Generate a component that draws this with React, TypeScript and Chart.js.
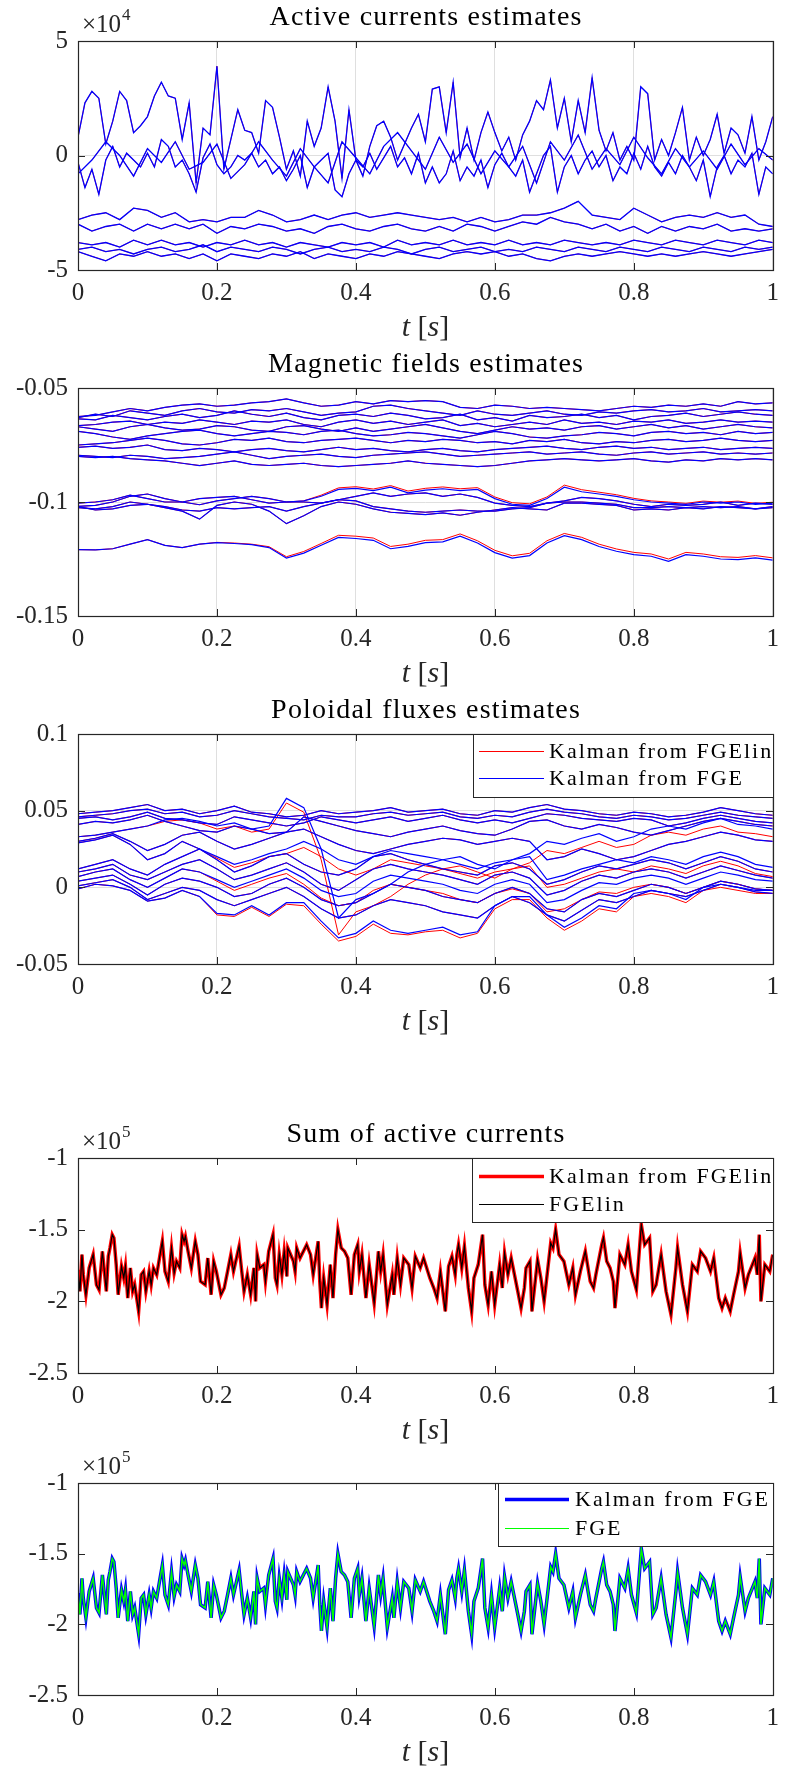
import React, { useEffect, useRef } from "react";
import { Chart, registerables } from "chart.js";
Chart.register(...registerables);

// ---------------- shared axis ticks ----------------
const xTicks = [0, 0.2, 0.4, 0.6, 0.8, 1];
const xTickLabels = ["0", "0.2", "0.4", "0.6", "0.8", "1"];

// ---------------- panel 1: active currents (units of 1e4) ----------------
const p1YTicks = [-5, 0, 5];
const p1YTickLabels = ["-5", "0", "5"];
const fineStep = 0.01;
const coarseStep = 0.02;
const currentA = [
  0.8, 2.3, 2.8, 2.5, 0.5, 1.5, 2.8, 2.4, 1.0, 1.3,
  1.7, 2.6, 3.2, 2.6, 2.5, 0.7, 2.3, -1.2, 1.2, 0.9,
  3.9, -0.6, 0.7, 2.0, 1.1, 1.0, 0.1, 2.4, 2.1, 0.8,
  -0.6, 0.2, -0.9, 1.5, 0.4, 1.2, 3.0, 1.5, -1.0, 2.0,
  -0.2, -0.9, 0.4, 1.3, 1.5, 0.8, -0.2, 0.5, 1.2, 1.8,
  0.6, 2.9, 3.0, 1.0, 3.2, -0.1, 1.2, -0.2, 1.0, 1.9,
  1.0, 0.2, 0.8, -0.2, 0.9, 1.5, 2.4, 2.0, 3.3, 1.2,
  2.5, 0.6, 2.4, 1.0, 3.4, 1.1, 0.2, 1.0, -0.2, 0.4,
  -0.2, 3.0, 2.7, -0.2, 0.7, 0.0, 1.0, 2.1, -0.2, 0.8,
  0.0, 0.7, 1.8, 0.1, 1.2, 0.9, 0.1, 1.7, -0.2, 0.6,
  1.7,
];
const currentB = [
  -0.3, -1.4, -0.6, -1.7, -0.2, 0.4, -0.5, 0.1, -0.2, -0.5,
  0.1, -0.5, 0.7, 0.4, -0.5, -0.2, -0.8, -1.6, -0.1, 0.5,
  -0.4, -0.8, -0.5, 0.0, -0.2, 0.1, -0.5, -0.2, -0.8, -0.5,
  -1.1, -0.6, 0.0, -1.4, -0.5, -0.2, 0.1, -1.5, -1.8, -0.8,
  -0.2, -0.5, 0.1, -0.6, -0.1, 0.4, -0.5, -0.1, -0.8, 0.1,
  -1.2, -0.5, -1.2, -0.8, 0.2, -1.1, -0.5, -0.9, -0.2, -1.4,
  -0.4, 0.1, -0.5, -0.9, -0.2, -1.6, -0.8, 0.0, 0.4, -1.6,
  -0.5, 0.0, -0.8, -0.2, 0.2, -0.5, 0.0, -1.1, -0.5, -0.8,
  0.1, -0.6, 0.4, -0.5, -0.9, -0.3, -0.8, 0.0, -0.5, -1.1,
  -0.2, -1.8, -0.5, 0.0, -0.8, -0.2, -0.5, 0.1, -1.7, -0.5,
  -0.8,
];
const currentC = [
  -0.8, -0.2, 0.6, 0.0, -0.9, 0.3, -0.3, 0.6, -0.6, -0.3,
  0.5, -1.0, -0.4, 0.6, -0.2, -0.9, 0.3, -0.5, -1.2, 0.6,
  -0.1, -0.8, 0.4, 1.0, 0.2, -0.6, 0.8, -0.3, 0.5, -0.8,
  0.2, -0.5, 0.4, -1.2, 0.6, -0.2, 0.9, -0.6, 0.3, -0.4,
  0.8, -0.1, -0.8, 0.3, -0.5, 0.2, -0.6, 0.5, -0.4, 0.3,
  -0.2,
];
const currentD = [
  -2.8, -2.6, -2.5, -2.8, -2.3, -2.4, -2.7, -2.5, -2.9, -2.8,
  -2.9, -2.7, -2.7, -2.4, -2.6, -2.9, -2.8, -2.6, -2.8, -2.6,
  -2.5, -2.7, -2.6, -2.5, -2.6, -2.7, -2.8, -2.7, -2.9, -2.7,
  -2.9, -2.8, -2.6, -2.6, -2.5, -2.3, -2.0, -2.6, -2.7, -2.8,
  -2.3, -2.6, -2.9, -2.7, -2.6, -2.7, -2.5, -2.7, -2.6, -3.0,
  -3.1,
];
const currentE = [
  -3.0, -3.3, -3.1, -3.0, -3.3, -3.0, -3.2, -3.0, -3.2, -3.0,
  -3.4, -3.1, -3.2, -3.0, -3.1, -3.3, -3.2, -3.4, -3.1, -3.0,
  -3.2, -3.3, -3.1, -3.0, -3.2, -3.3, -3.1, -3.3, -3.0, -3.1,
  -3.3, -3.1, -2.9, -3.0, -2.7, -2.9, -3.0, -3.2, -3.0, -3.3,
  -3.1, -3.4, -3.1, -3.3, -3.1, -3.2, -3.0, -3.3, -3.2, -3.3,
  -3.2,
];
const currentF = [
  -3.8, -3.9, -3.8, -4.0, -3.7, -3.9, -3.7, -3.9, -3.8, -4.0,
  -3.8, -3.9, -3.7, -3.9, -3.8, -4.0, -3.8, -3.9, -4.0, -3.8,
  -3.9, -3.8, -4.0, -3.7, -3.9, -3.8, -3.9, -3.7, -3.9, -3.8,
  -3.9, -3.7, -3.9, -3.8, -3.9, -3.7, -3.8, -3.9, -3.8, -3.9,
  -3.7, -3.8, -3.9, -3.7, -3.8, -3.9, -3.7, -3.8, -3.9, -3.7,
  -3.8,
];
const currentG = [
  -4.1, -4.0, -4.2, -4.1, -4.3, -4.1, -4.0, -4.2, -4.1, -3.9,
  -4.2, -4.0, -4.1, -4.2, -4.0, -4.1, -4.3, -4.1, -4.0, -4.2,
  -4.1, -4.2, -4.0, -4.1, -4.3, -4.1, -4.0, -4.2, -4.1, -4.0,
  -4.2, -4.1, -4.2, -4.0, -4.1, -4.2, -4.0, -4.1, -4.2, -4.0,
  -4.1, -4.2, -4.0, -4.1, -4.2, -4.0, -4.1, -4.2, -4.0, -4.1,
  -4.0,
];
const currentH = [
  -4.2, -4.4, -4.6, -4.3, -4.4, -4.2, -4.4, -4.3, -4.5, -4.3,
  -4.6, -4.3, -4.4, -4.5, -4.3, -4.4, -4.2, -4.5, -4.3, -4.4,
  -4.5, -4.3, -4.4, -4.2, -4.3, -4.4, -4.5, -4.3, -4.2, -4.3,
  -4.2, -4.4, -4.3, -4.5, -4.6, -4.4, -4.3, -4.4, -4.3, -4.2,
  -4.3, -4.4, -4.3, -4.4, -4.3, -4.2, -4.3, -4.4, -4.3, -4.2,
  -4.1,
];

// ---------------- panel 2: magnetic fields ----------------
const p2YTicks = [-0.15, -0.1, -0.05];
const p2YTickLabels = ["-0.15", "-0.1", "-0.05"];
const fieldStep = 0.025;
const fieldT1 = [
  -0.0625, -0.0620, -0.0605, -0.0590, -0.0600, -0.0585, -0.0575, -0.0570, -0.0580, -0.0575,
  -0.0565, -0.0560, -0.0548, -0.0565, -0.0580, -0.0575, -0.0560, -0.0570, -0.0555, -0.0560,
  -0.0555, -0.0560, -0.0585, -0.0590, -0.0575, -0.0580, -0.0590, -0.0585, -0.0590, -0.0595,
  -0.0600, -0.0590, -0.0580, -0.0585, -0.0575, -0.0580, -0.0570, -0.0580, -0.0560, -0.0570,
  -0.0565,
];
const fieldT2 = [
  -0.0630, -0.0615, -0.0625, -0.0600, -0.0610, -0.0620, -0.0600, -0.0590, -0.0605, -0.0610,
  -0.0595, -0.0600, -0.0590, -0.0605, -0.0620, -0.0610, -0.0605, -0.0580, -0.0575, -0.0590,
  -0.0600, -0.0610, -0.0620, -0.0600, -0.0615, -0.0620, -0.0610, -0.0600, -0.0615, -0.0620,
  -0.0605, -0.0610, -0.0600, -0.0595, -0.0605, -0.0600, -0.0590, -0.0605, -0.0600, -0.0595,
  -0.0600,
];
const fieldT3 = [
  -0.0635, -0.0640, -0.0620, -0.0630, -0.0640, -0.0625, -0.0615, -0.0630, -0.0620, -0.0600,
  -0.0615, -0.0625, -0.0610, -0.0630, -0.0640, -0.0620, -0.0615, -0.0625, -0.0610, -0.0620,
  -0.0635, -0.0630, -0.0615, -0.0640, -0.0630, -0.0645, -0.0620, -0.0630, -0.0625, -0.0615,
  -0.0630, -0.0620, -0.0640, -0.0625, -0.0620, -0.0610, -0.0625, -0.0615, -0.0605, -0.0615,
  -0.0620,
];
const fieldT4 = [
  -0.0665, -0.0660, -0.0650, -0.0645, -0.0660, -0.0650, -0.0655, -0.0640, -0.0650, -0.0660,
  -0.0645, -0.0650, -0.0640, -0.0660, -0.0670, -0.0650, -0.0640, -0.0655, -0.0645, -0.0660,
  -0.0650, -0.0640, -0.0665, -0.0655, -0.0670, -0.0660, -0.0650, -0.0660, -0.0640, -0.0655,
  -0.0650, -0.0660, -0.0645, -0.0650, -0.0640, -0.0655, -0.0650, -0.0640, -0.0650, -0.0645,
  -0.0650,
];
const fieldT5 = [
  -0.0670, -0.0680, -0.0690, -0.0670, -0.0660, -0.0675, -0.0685, -0.0680, -0.0665, -0.0670,
  -0.0685, -0.0690, -0.0670, -0.0665, -0.0680, -0.0690, -0.0675, -0.0690, -0.0680, -0.0670,
  -0.0660, -0.0675, -0.0690, -0.0700, -0.0685, -0.0670, -0.0680, -0.0675, -0.0685, -0.0670,
  -0.0665, -0.0680, -0.0670, -0.0660, -0.0675, -0.0665, -0.0680, -0.0670, -0.0660, -0.0670,
  -0.0675,
];
const fieldT6 = [
  -0.0690, -0.0700, -0.0715, -0.0725, -0.0710, -0.0700, -0.0690, -0.0685, -0.0700, -0.0710,
  -0.0700, -0.0690, -0.0695, -0.0705, -0.0690, -0.0685, -0.0700, -0.0710, -0.0705, -0.0695,
  -0.0700, -0.0710, -0.0720, -0.0705, -0.0690, -0.0700, -0.0715, -0.0720, -0.0710, -0.0705,
  -0.0695, -0.0700, -0.0710, -0.0695, -0.0690, -0.0700, -0.0695, -0.0705, -0.0690, -0.0700,
  -0.0695,
];
const fieldT7 = [
  -0.0750, -0.0745, -0.0740, -0.0730, -0.0720, -0.0730, -0.0745, -0.0750, -0.0740, -0.0725,
  -0.0730, -0.0720, -0.0735, -0.0740, -0.0730, -0.0725, -0.0720, -0.0730, -0.0740, -0.0730,
  -0.0735, -0.0725, -0.0730, -0.0740, -0.0735, -0.0745, -0.0730, -0.0735, -0.0725, -0.0740,
  -0.0745, -0.0735, -0.0740, -0.0730, -0.0725, -0.0735, -0.0730, -0.0720, -0.0730, -0.0735,
  -0.0730,
];
const fieldT8 = [
  -0.0760, -0.0755, -0.0765, -0.0760, -0.0750, -0.0770, -0.0775, -0.0765, -0.0770, -0.0780,
  -0.0770, -0.0765, -0.0775, -0.0780, -0.0770, -0.0760, -0.0770, -0.0765, -0.0775, -0.0780,
  -0.0770, -0.0765, -0.0775, -0.0780, -0.0770, -0.0765, -0.0760, -0.0755, -0.0765, -0.0770,
  -0.0760, -0.0755, -0.0765, -0.0760, -0.0770, -0.0765, -0.0760, -0.0770, -0.0765, -0.0760,
  -0.0765,
];
const fieldT9 = [
  -0.0795, -0.0800, -0.0805, -0.0795, -0.0800, -0.0810, -0.0805, -0.0800, -0.0790, -0.0780,
  -0.0795, -0.0810, -0.0800, -0.0795, -0.0790, -0.0800, -0.0805, -0.0795, -0.0790, -0.0785,
  -0.0780, -0.0790, -0.0800, -0.0795, -0.0790, -0.0785, -0.0780, -0.0790, -0.0785, -0.0780,
  -0.0790, -0.0795, -0.0785, -0.0780, -0.0790, -0.0785, -0.0780, -0.0790, -0.0785, -0.0790,
  -0.0785,
];
const fieldT10 = [
  -0.0800, -0.0805, -0.0800, -0.0810, -0.0815, -0.0820, -0.0830, -0.0840, -0.0830, -0.0820,
  -0.0835, -0.0840, -0.0835, -0.0830, -0.0840, -0.0845, -0.0840, -0.0835, -0.0830, -0.0820,
  -0.0830, -0.0835, -0.0840, -0.0845, -0.0840, -0.0830, -0.0820, -0.0815, -0.0810, -0.0815,
  -0.0820, -0.0815, -0.0810, -0.0820, -0.0825, -0.0815, -0.0820, -0.0810, -0.0815, -0.0810,
  -0.0815,
];
const fieldMidA = [
  -0.1019, -0.1015, -0.1000, -0.0975, -0.0965, -0.0985, -0.1000, -0.1012, -0.0995, -0.0985,
  -0.0975, -0.0985, -0.1000, -0.0995, -0.0975, -0.0945, -0.0940, -0.0950, -0.0935, -0.0960,
  -0.0948, -0.0942, -0.0950, -0.0945, -0.0985, -0.1010, -0.1015, -0.0985, -0.0935, -0.0955,
  -0.0965, -0.0975, -0.0990, -0.1000, -0.1005, -0.1010, -0.1000, -0.1005, -0.1000, -0.1010,
  -0.1005,
];
const fieldMidARed = [
  -0.1019, -0.1015, -0.1000, -0.0975, -0.0965, -0.0985, -0.1000, -0.1012, -0.0995, -0.0985,
  -0.0975, -0.0985, -0.1000, -0.0995, -0.0970, -0.0938, -0.0933, -0.0943, -0.0928, -0.0952,
  -0.0940, -0.0934, -0.0942, -0.0937, -0.0978, -0.1003, -0.1008, -0.0978, -0.0926, -0.0946,
  -0.0957, -0.0968, -0.0984, -0.0995, -0.1000, -0.1006, -0.0996, -0.1001, -0.0996, -0.1006,
  -0.1001,
];
const fieldMidB = [
  -0.1025, -0.1030, -0.1020, -0.1000, -0.1010, -0.1025, -0.1040, -0.1075, -0.1015, -0.1000,
  -0.1010, -0.1040, -0.1095, -0.1060, -0.1020, -0.1000, -0.1010, -0.1030, -0.1045, -0.1050,
  -0.1055, -0.1048, -0.1058, -0.1045, -0.1035, -0.1025, -0.1030, -0.1035, -0.1005, -0.1005,
  -0.1010, -0.1015, -0.1035, -0.1030, -0.1035, -0.1025, -0.1030, -0.1020, -0.1025, -0.1030,
  -0.1020,
];
const fieldMidC = [
  -0.1005, -0.1000, -0.0990, -0.0970, -0.0985, -0.1000, -0.1000, -0.0985, -0.0980, -0.0975,
  -0.0990, -0.1005, -0.1000, -0.1000, -0.1005, -0.0990, -0.0975, -0.0960, -0.0975, -0.0965,
  -0.0960, -0.0975, -0.0965, -0.0980, -0.1005, -0.1015, -0.1020, -0.1005, -0.0995, -0.0980,
  -0.0985, -0.0995, -0.1010, -0.1020, -0.1010, -0.1015, -0.1010, -0.1000, -0.1015, -0.1005,
  -0.1010,
];
const fieldMidD = [
  -0.1020, -0.1035, -0.1030, -0.1015, -0.1010, -0.1020, -0.1035, -0.1040, -0.1025, -0.1030,
  -0.1025, -0.1020, -0.1040, -0.1020, -0.1005, -0.0990, -0.0995, -0.1020, -0.1030, -0.1040,
  -0.1045, -0.1040, -0.1035, -0.1040, -0.1040, -0.1030, -0.1025, -0.1005, -0.1000, -0.1000,
  -0.1005, -0.1010, -0.1025, -0.1025, -0.1020, -0.1025, -0.1020, -0.1025, -0.1020, -0.1030,
  -0.1025,
];
const fieldLow = [
  -0.1209, -0.1210, -0.1205, -0.1185, -0.1165, -0.1190, -0.1200, -0.1185, -0.1178, -0.1182,
  -0.1187, -0.1200, -0.1246, -0.1224, -0.1190, -0.1155, -0.1160, -0.1168, -0.1205, -0.1195,
  -0.1178, -0.1175, -0.1150, -0.1180, -0.1222, -0.1246, -0.1235, -0.1180, -0.1148, -0.1165,
  -0.1195, -0.1216, -0.1231, -0.1238, -0.1260, -0.1231, -0.1238, -0.1250, -0.1253, -0.1245,
  -0.1255,
];
const fieldLowRed = [
  -0.1209, -0.1210, -0.1205, -0.1185, -0.1165, -0.1190, -0.1200, -0.1185, -0.1177, -0.1180,
  -0.1185, -0.1196, -0.1240, -0.1217, -0.1182, -0.1146, -0.1150, -0.1158, -0.1195, -0.1185,
  -0.1168, -0.1165, -0.1140, -0.1170, -0.1212, -0.1236, -0.1225, -0.1170, -0.1138, -0.1155,
  -0.1185, -0.1206, -0.1221, -0.1228, -0.1250, -0.1221, -0.1228, -0.1240, -0.1243, -0.1235,
  -0.1245,
];

// ---------------- panel 3: poloidal fluxes ----------------
const p3YTicks = [-0.05, 0, 0.05, 0.1];
const p3YTickLabels = ["-0.05", "0", "0.05", "0.1"];
const fluxStep = 0.025;
const flux1 = [
  0.048, 0.049, 0.050, 0.052, 0.054, 0.050, 0.051, 0.048, 0.050, 0.053,
  0.049, 0.048, 0.046, 0.047, 0.050, 0.048, 0.049, 0.050, 0.052, 0.049,
  0.050, 0.051, 0.048, 0.047, 0.050, 0.049, 0.052, 0.054, 0.051, 0.050,
  0.048, 0.047, 0.049, 0.048, 0.046, 0.047, 0.049, 0.052, 0.050, 0.048,
  0.047,
];
const flux2 = [
  0.046, 0.047, 0.048, 0.050, 0.051, 0.048, 0.049, 0.046, 0.047, 0.050,
  0.048, 0.046, 0.045, 0.044, 0.047, 0.046, 0.046, 0.048, 0.049, 0.047,
  0.048, 0.049, 0.046, 0.045, 0.047, 0.046, 0.049, 0.051, 0.049, 0.048,
  0.046, 0.045, 0.047, 0.046, 0.044, 0.045, 0.047, 0.049, 0.047, 0.046,
  0.045,
];
const flux3 = [
  0.045, 0.046, 0.044, 0.046, 0.049, 0.045, 0.044, 0.042, 0.041, 0.046,
  0.044, 0.042, 0.040, 0.042, 0.046, 0.044, 0.042, 0.044, 0.046, 0.043,
  0.045, 0.047, 0.044, 0.042, 0.044, 0.042, 0.045, 0.048, 0.047, 0.045,
  0.044, 0.043, 0.045, 0.044, 0.040, 0.042, 0.045, 0.047, 0.045, 0.043,
  0.042,
];
const flux4 = [
  0.041, 0.043, 0.042, 0.044, 0.047, 0.043, 0.040, 0.037, 0.036, 0.040,
  0.038, 0.035, 0.036, 0.046, 0.043, 0.040, 0.037, 0.035, 0.033, 0.036,
  0.038, 0.040, 0.037, 0.035, 0.034, 0.038, 0.043, 0.044, 0.040, 0.038,
  0.041, 0.039, 0.036, 0.034, 0.037, 0.040, 0.043, 0.045, 0.043, 0.041,
  0.040,
];
const flux5 = [
  0.033, 0.034, 0.036, 0.038, 0.040, 0.044, 0.045, 0.043, 0.040, 0.042,
  0.038, 0.040, 0.058, 0.052, 0.025, -0.020, -0.008, -0.004, 0.002, 0.010,
  0.015, 0.018, 0.020, 0.015, 0.012, 0.018, 0.022, 0.030, 0.028, 0.032,
  0.035, 0.030, 0.033, 0.038, 0.040, 0.038, 0.042, 0.045, 0.041, 0.040,
  0.038,
];
const flux5Red = [
  0.033, 0.034, 0.036, 0.038, 0.040, 0.043, 0.044, 0.042, 0.038, 0.040,
  0.036, 0.038, 0.055, 0.049, 0.018, -0.031, -0.016, -0.012, -0.006, 0.002,
  0.008, 0.012, 0.014, 0.010, 0.006, 0.012, 0.016, 0.024, 0.022, 0.026,
  0.030, 0.026, 0.028, 0.034, 0.036, 0.034, 0.038, 0.040, 0.036, 0.035,
  0.033,
];
const flux6 = [
  0.030, 0.032, 0.035, 0.030, 0.024, 0.028, 0.034, 0.036, 0.030, 0.025,
  0.028, 0.032, 0.036, 0.038, 0.033, 0.028, 0.024, 0.022, 0.025, 0.028,
  0.030, 0.032, 0.031, 0.028, 0.030, 0.032, 0.030, 0.018, 0.020, 0.025,
  0.022, 0.018, 0.020, 0.024, 0.028, 0.030, 0.033, 0.036, 0.034, 0.031,
  0.030,
];
const flux7 = [
  0.029, 0.031, 0.034, 0.028, 0.018, 0.022, 0.030, 0.025, 0.020, 0.015,
  0.018, 0.022, 0.025, 0.030, 0.025, 0.018, 0.015, 0.020, 0.024, 0.022,
  0.020, 0.018, 0.015, 0.012, 0.016, 0.018, 0.020, 0.005, 0.008, 0.012,
  0.015, 0.018, 0.016, 0.020, 0.018, 0.015, 0.020, 0.023, 0.020, 0.015,
  0.013,
];
const flux7Red = [
  0.029, 0.031, 0.034, 0.028, 0.018, 0.022, 0.030, 0.025, 0.019, 0.013,
  0.016, 0.020, 0.022, 0.026, 0.020, 0.012, 0.008, 0.012, 0.018, 0.016,
  0.014, 0.012, 0.009, 0.006, 0.010, 0.012, 0.014, 0.000, 0.002, 0.006,
  0.010, 0.012, 0.010, 0.014, 0.012, 0.009, 0.014, 0.017, 0.014, 0.009,
  0.007,
];
const flux8 = [
  0.012, 0.015, 0.018, 0.012, 0.008, 0.015, 0.020, 0.025, 0.018, 0.010,
  0.014, 0.020, 0.022, 0.015, 0.010, 0.008, 0.012, 0.020, 0.022, 0.018,
  0.015, 0.012, 0.010, 0.008, 0.014, 0.016, 0.012, 0.002, 0.005, 0.010,
  0.014, 0.012, 0.015, 0.018, 0.016, 0.012, 0.016, 0.020, 0.017, 0.012,
  0.010,
];
const flux9 = [
  0.010, 0.012, 0.015, 0.008, 0.005, 0.010, 0.015, 0.018, 0.012, 0.005,
  0.008, 0.012, 0.016, 0.010, 0.002, -0.002, 0.005, 0.012, 0.015, 0.012,
  0.010, 0.008, 0.005, 0.002, 0.008, 0.010, 0.006, -0.005, -0.002, 0.004,
  0.008, 0.006, 0.010, 0.012, 0.010, 0.006, 0.010, 0.014, 0.011, 0.008,
  0.006,
];
const flux10 = [
  0.007, 0.010, 0.012, 0.005, 0.000, 0.006, 0.012, 0.010, 0.005, 0.000,
  0.004, 0.008, 0.012, 0.006, -0.002, -0.006, -0.004, 0.004, 0.008, 0.006,
  0.004, 0.002, -0.002, -0.004, 0.002, 0.005, 0.002, -0.010, -0.008, -0.002,
  0.003, 0.002, 0.006, 0.008, 0.006, 0.002, 0.006, 0.010, 0.008, 0.005,
  0.004,
];
const flux10Red = [
  0.007, 0.010, 0.012, 0.005, 0.000, 0.006, 0.012, 0.010, 0.004, -0.002,
  0.002, 0.006, 0.009, 0.002, -0.007, -0.012, -0.010, -0.002, 0.002, 0.000,
  -0.002, -0.004, -0.008, -0.010, -0.004, -0.001, -0.004, -0.016, -0.014, -0.008,
  -0.003, -0.004, 0.000, 0.002, 0.000, -0.004, 0.000, 0.004, 0.002, -0.001,
  -0.002,
];
const flux11 = [
  0.004, 0.006, 0.008, 0.002, -0.005, 0.002, 0.006, 0.004, 0.000, -0.006,
  -0.004, 0.002, 0.006, 0.000, -0.008, -0.012, -0.010, -0.004, 0.002, 0.000,
  -0.002, -0.006, -0.008, -0.010, -0.004, 0.000, -0.004, -0.014, -0.016, -0.008,
  -0.004, -0.006, -0.002, 0.002, 0.000, -0.004, 0.000, 0.004, 0.002, -0.001,
  -0.002,
];
const flux12 = [
  0.001, 0.003, 0.005, 0.000, -0.008, -0.004, 0.000, -0.002, -0.008, -0.012,
  -0.008, -0.004, 0.000, -0.006, -0.014, -0.020, -0.018, -0.012, -0.008, -0.010,
  -0.012, -0.016, -0.018, -0.020, -0.012, -0.006, -0.010, -0.018, -0.022, -0.015,
  -0.008, -0.010, -0.006, -0.002, -0.004, -0.006, -0.002, 0.002, 0.000, -0.003,
  -0.004,
];
const flux13 = [
  -0.001, 0.002, 0.001, -0.002, -0.009, -0.007, -0.002, -0.006, -0.017, -0.018,
  -0.012, -0.018, -0.010, -0.010, -0.022, -0.033, -0.030, -0.022, -0.028, -0.030,
  -0.028, -0.026, -0.031, -0.029, -0.012, -0.006, -0.006, -0.018, -0.026, -0.020,
  -0.012, -0.014, -0.004, -0.002, -0.004, -0.008, 0.000, 0.002, 0.000, -0.002,
  -0.002,
];
const flux13Red = [
  -0.001, 0.002, 0.001, -0.002, -0.009, -0.007, -0.002, -0.006, -0.018, -0.019,
  -0.013, -0.019, -0.011, -0.012, -0.024, -0.035, -0.032, -0.024, -0.030, -0.031,
  -0.029, -0.028, -0.033, -0.030, -0.014, -0.008, -0.008, -0.020, -0.028, -0.022,
  -0.014, -0.016, -0.006, -0.004, -0.006, -0.010, -0.002, 0.000, -0.002, -0.004,
  -0.004,
];

// ---------------- panels 4 & 5: sum of active currents (units of 1e5) ----------------
const p45YTicks = [-2.5, -2, -1.5, -1];
const p45YTickLabels = ["-2.5", "-2", "-1.5", "-1"];
const sumTime = [
  0, 0.0028, 0.0057, 0.0076, 0.0114, 0.0161, 0.0218, 0.0266, 0.0303, 0.0351,
  0.0408, 0.0436, 0.0460, 0.0493, 0.0517, 0.0550, 0.0578, 0.0626, 0.0659, 0.0683,
  0.0716, 0.0754, 0.0787, 0.0816, 0.0873, 0.0910, 0.0944, 0.0977, 0.1024, 0.1053,
  0.1086, 0.1133, 0.1181, 0.1214, 0.1252, 0.1299, 0.1346, 0.1384, 0.1418, 0.1465,
  0.1498, 0.1527, 0.1546, 0.1584, 0.1631, 0.1688, 0.1726, 0.1764, 0.1830, 0.1868,
  0.1916, 0.1953, 0.1991, 0.2058, 0.2105, 0.2153, 0.2200, 0.2238, 0.2319, 0.2357,
  0.2390, 0.2437, 0.2485, 0.2532, 0.2556, 0.2579, 0.2617, 0.2674, 0.2698, 0.2745,
  0.2807, 0.2840, 0.2864, 0.2897, 0.2935, 0.2968, 0.3006, 0.3020, 0.3101, 0.3125,
  0.3148, 0.3196, 0.3291, 0.3347, 0.3385, 0.3457, 0.3480, 0.3504, 0.3537, 0.3585,
  0.3632, 0.3670, 0.3708, 0.3741, 0.3789, 0.3836, 0.3883, 0.3931, 0.3978, 0.4026,
  0.4049, 0.4087, 0.4144, 0.4191, 0.4263, 0.4324, 0.4357, 0.4391, 0.4452, 0.4523,
  0.4547, 0.4595, 0.4642, 0.4689, 0.4761, 0.4808, 0.4855, 0.4926, 0.4974, 0.5064,
  0.5121, 0.5168, 0.5216, 0.5287, 0.5334, 0.5382, 0.5429, 0.5453, 0.5477, 0.5524,
  0.5562, 0.5619, 0.5666, 0.5699, 0.5761, 0.5823, 0.5856, 0.5903, 0.5951, 0.5998,
  0.6069, 0.6107, 0.6140, 0.6188, 0.6235, 0.6330, 0.6377, 0.6425, 0.6449, 0.6505,
  0.6534, 0.6615, 0.6662, 0.6709, 0.6804, 0.6837, 0.6875, 0.6923, 0.6994, 0.7065,
  0.7122, 0.7160, 0.7231, 0.7302, 0.7373, 0.7421, 0.7454, 0.7539, 0.7563, 0.7610,
  0.7658, 0.7705, 0.7729, 0.7800, 0.7871, 0.7918, 0.7966, 0.8037, 0.8108, 0.8156,
  0.8227, 0.8274, 0.8321, 0.8393, 0.8464, 0.8535, 0.8606, 0.8630, 0.8701, 0.8772,
  0.8843, 0.8914, 0.8962, 0.9033, 0.9104, 0.9151, 0.9222, 0.9270, 0.9317, 0.9388,
  0.9436, 0.9507, 0.9531, 0.9602, 0.9649, 0.9744, 0.9777, 0.9806, 0.9830, 0.9886,
  0.9957, 1.0,
];
const sumActive = [
  -1.779, -1.930, -1.674, -1.814, -1.954, -1.767, -1.674, -1.884, -1.919, -1.651,
  -1.930, -1.686, -1.628, -1.535, -1.558, -1.744, -1.954, -1.756, -1.837, -1.756,
  -1.977, -1.767, -1.930, -1.884, -2.070, -1.814, -1.791, -1.930, -1.791, -1.884,
  -1.767, -1.814, -1.674, -1.581, -1.791, -1.861, -1.628, -1.802, -1.721, -1.767,
  -1.535, -1.581, -1.547, -1.651, -1.767, -1.581, -1.674, -1.861, -1.884, -1.698,
  -1.954, -1.721, -1.791, -1.954, -1.907, -1.791, -1.674, -1.791, -1.616, -1.791,
  -1.930, -1.814, -1.954, -1.767, -2.000, -1.674, -1.767, -1.744, -1.861, -1.651,
  -1.535, -1.837, -1.884, -1.674, -1.814, -1.651, -1.826, -1.628, -1.721, -1.791,
  -1.628, -1.698, -1.605, -1.674, -1.814, -1.581, -1.861, -2.047, -1.837, -2.023,
  -1.744, -1.977, -1.674, -1.500, -1.628, -1.651, -1.698, -1.954, -1.674, -1.605,
  -1.791, -1.674, -1.977, -1.744, -2.012, -1.651, -1.791, -1.674, -2.023, -1.814,
  -1.954, -1.698, -1.884, -1.698, -1.744, -1.907, -1.686, -1.767, -1.698, -1.837,
  -1.907, -1.977, -1.791, -2.070, -1.756, -1.686, -1.814, -1.674, -1.605, -1.767,
  -1.616, -1.907, -2.070, -1.837, -1.744, -1.535, -1.884, -2.023, -1.791, -2.023,
  -1.744, -1.907, -1.663, -1.814, -1.698, -1.930, -2.047, -1.907, -1.767, -1.721,
  -2.070, -1.709, -1.837, -2.000, -1.593, -1.628, -1.500, -1.674, -1.721, -1.884,
  -1.767, -1.954, -1.791, -1.651, -1.861, -1.907, -1.814, -1.605, -1.558, -1.721,
  -1.767, -1.861, -2.047, -1.674, -1.744, -1.605, -1.791, -1.919, -1.465, -1.605,
  -1.558, -1.930, -1.884, -1.674, -1.930, -2.093, -1.767, -1.628, -1.884, -2.070,
  -1.744, -1.791, -1.651, -1.698, -1.791, -1.698, -1.977, -2.047, -1.977, -2.070,
  -1.954, -1.791, -1.663, -1.907, -1.814, -1.698, -1.814, -1.535, -2.000, -1.744,
  -1.791, -1.674,
];

// ---------------- colours ----------------
const RED = "#ff0000";
const BLUE = "#0000ff";
const GREEN = "#00ff00";
const BLACK = "#000000";
const AXIS = "#262626";
const GRID = "#dfdfdf";
const SERIF = '"Liberation Serif", "Times New Roman", serif';

// ---------------- helpers ----------------
const onGrid = (vals: number[], step: number) => vals.map((v, i) => ({ x: +(i * step).toFixed(4), y: v }));
const onTimes = (t: number[], vals: number[]) => vals.map((v, i) => ({ x: t[i], y: v }));
const line = (data: any[], color: string, width = 1) => ({
  data,
  borderColor: color,
  borderWidth: width,
  pointRadius: 0,
  fill: false,
  tension: 0,
});

const p1Fine = [currentA, currentB];
const p1Coarse = [currentC, currentD, currentE, currentF, currentG, currentH];
const p2Blue = [fieldT1, fieldT2, fieldT3, fieldT4, fieldT5, fieldT6, fieldT7, fieldT8, fieldT9, fieldT10, fieldMidA, fieldMidB, fieldMidC, fieldMidD, fieldLow];
const p2Red = [fieldT1, fieldT2, fieldT3, fieldT4, fieldT5, fieldT6, fieldT7, fieldT8, fieldT9, fieldT10, fieldMidARed, fieldMidB, fieldMidC, fieldMidD, fieldLowRed];
const p3Blue = [flux1, flux2, flux3, flux4, flux5, flux6, flux7, flux8, flux9, flux10, flux11, flux12, flux13];
const p3Red = [flux1, flux2, flux3, flux4, flux5Red, flux6, flux7Red, flux8, flux9, flux10Red, flux11, flux12, flux13Red];

const panels: any[] = [
  {
    bandTop: 0, bandH: 345, plotTop: 41, plotBottom: 270,
    yMin: -5, yMax: 5, yTicks: p1YTicks, yLabels: p1YTickLabels, grid: true,
    title: "Active currents estimates", exponent: "4",
    datasets: [
      ...p1Fine.map((s) => line(onGrid(s, fineStep), BLUE, 1.3)),
      ...p1Coarse.map((s) => line(onGrid(s, coarseStep), BLUE, 1.3)),
      ...p1Fine.map((s) => line(onGrid(s, fineStep), RED, 0.8)),
      ...p1Coarse.map((s) => line(onGrid(s, coarseStep), RED, 0.8)),
    ],
  },
  {
    bandTop: 345, bandH: 347, plotTop: 388, plotBottom: 616,
    yMin: -0.15, yMax: -0.05, yTicks: p2YTicks, yLabels: p2YTickLabels, grid: true,
    title: "Magnetic fields estimates",
    datasets: [
      ...p2Blue.map((s) => line(onGrid(s, fieldStep), BLUE, 1.2)),
      ...p2Red.map((s) => line(onGrid(s, fieldStep), RED, 1)),
    ],
  },
  {
    bandTop: 692, bandH: 353, plotTop: 734, plotBottom: 964,
    yMin: -0.05, yMax: 0.1, yTicks: p3YTicks, yLabels: p3YTickLabels, grid: true,
    title: "Poloidal fluxes estimates",
    legend: {
      w: 300, h: 63, s0: 6, s1: 71, tx: 76,
      entries: [
        { label: "Kalman from FGElin", color: RED, lw: 1, dy: 17 },
        { label: "Kalman from FGE", color: BLUE, lw: 1, dy: 44 },
      ],
    },
    datasets: [
      ...p3Blue.map((s) => line(onGrid(s, fluxStep), BLUE, 1.2)),
      ...p3Red.map((s) => line(onGrid(s, fluxStep), RED, 1)),
    ],
  },
  {
    bandTop: 1045, bandH: 403, plotTop: 1158, plotBottom: 1373,
    yMin: -2.5, yMax: -1, yTicks: p45YTicks, yLabels: p45YTickLabels, grid: false,
    title: "Sum of active currents", exponent: "5",
    legend: {
      w: 301, h: 64, s0: 7, s1: 72, tx: 77,
      entries: [
        { label: "Kalman from FGElin", color: RED, lw: 3.5, dy: 18 },
        { label: "FGElin", color: BLACK, lw: 1, dy: 46 },
      ],
    },
    datasets: [
      line(onTimes(sumTime, sumActive), BLACK, 1.2),
      line(onTimes(sumTime, sumActive), RED, 3.5),
    ],
  },
  {
    bandTop: 1448, bandH: 323, plotTop: 1483, plotBottom: 1695,
    yMin: -2.5, yMax: -1, yTicks: p45YTicks, yLabels: p45YTickLabels, grid: false,
    exponent: "5",
    legend: {
      w: 275, h: 63, s0: 7, s1: 71, tx: 77,
      entries: [
        { label: "Kalman from FGE", color: BLUE, lw: 3.5, dy: 16 },
        { label: "FGE", color: GREEN, lw: 1, dy: 45 },
      ],
    },
    datasets: [
      line(onTimes(sumTime, sumActive), GREEN, 1.5),
      line(onTimes(sumTime, sumActive), BLUE, 3.5),
    ],
  },
];

// draws text with explicit extra spacing between characters
function spacedText(ctx: CanvasRenderingContext2D, text: string, x: number, y: number, spacing: number, align: "left" | "center") {
  let total = 0;
  const widths = Array.from(text).map((ch) => ctx.measureText(ch).width);
  widths.forEach((w) => { total += w; });
  total += spacing * (widths.length - 1);
  let cx = align === "center" ? x - total / 2 : x;
  const saveAlign = ctx.textAlign;
  ctx.textAlign = "left";
  Array.from(text).forEach((ch, i) => {
    ctx.fillText(ch, cx, y);
    cx += widths[i] + spacing;
  });
  ctx.textAlign = saveAlign;
}

function decor(p: any) {
  return {
    id: "matlabDecor",
    afterDraw(chart: any) {
      const ctx = chart.ctx as CanvasRenderingContext2D;
      const a = chart.chartArea;
      const xs = chart.scales.x;
      const ys = chart.scales.y;
      const L = Math.round(a.left), R = Math.round(a.right), T = Math.round(a.top), B = Math.round(a.bottom);
      ctx.save();
      ctx.strokeStyle = AXIS;
      ctx.lineWidth = 1;
      const tl = 7;
      ctx.beginPath();
      xTicks.forEach((v) => {
        const px = Math.round(xs.getPixelForValue(v)) + 0.5;
        ctx.moveTo(px, B); ctx.lineTo(px, B - tl);
        ctx.moveTo(px, T); ctx.lineTo(px, T + tl);
      });
      p.yTicks.forEach((v: number) => {
        const py = Math.round(ys.getPixelForValue(v)) + 0.5;
        ctx.moveTo(L, py); ctx.lineTo(L + tl, py);
        ctx.moveTo(R, py); ctx.lineTo(R - tl, py);
      });
      ctx.stroke();
      ctx.lineWidth = 1.2;
      ctx.strokeRect(L + 0.5, T + 0.5, R - L, B - T);

      if (p.legend) {
        const lg = p.legend;
        const bx = R - lg.w, by = T;
        ctx.fillStyle = "#ffffff";
        ctx.fillRect(bx, by, lg.w, lg.h);
        ctx.lineWidth = 1;
        ctx.strokeStyle = AXIS;
        ctx.strokeRect(bx + 0.5, by + 0.5, lg.w, lg.h);
        lg.entries.forEach((e: any) => {
          const y = by + e.dy;
          ctx.strokeStyle = e.color;
          ctx.lineWidth = e.lw;
          ctx.beginPath();
          ctx.moveTo(bx + lg.s0, y + 0.5);
          ctx.lineTo(bx + lg.s1, y + 0.5);
          ctx.stroke();
          ctx.fillStyle = "#000";
          ctx.font = `22px ${SERIF}`;
          ctx.textBaseline = "middle";
          spacedText(ctx, e.label, bx + lg.tx, y + 1, 2.0, "left");
        });
      }

      const cx = (L + R) / 2;
      ctx.fillStyle = "#000";
      ctx.textBaseline = "alphabetic";
      if (p.title) {
        ctx.font = `28px ${SERIF}`;
        spacedText(ctx, p.title, cx, T - 16, 1.2, "center");
      }
      if (p.exponent) {
        ctx.fillStyle = AXIS;
        ctx.textAlign = "left";
        ctx.font = `25px ${SERIF}`;
        const base = "\u00d710";
        ctx.fillText(base, L + 4, T - 9);
        const w = ctx.measureText(base).width;
        ctx.font = `17px ${SERIF}`;
        ctx.fillText(p.exponent, L + 5 + w, T - 21);
      }
      const parts = [
        { t: "t", f: `italic 30px ${SERIF}` },
        { t: " [", f: `30px ${SERIF}` },
        { t: "s", f: `italic 30px ${SERIF}` },
        { t: "]", f: `30px ${SERIF}` },
      ];
      let tw = 0;
      parts.forEach((q) => { ctx.font = q.f; tw += ctx.measureText(q.t).width; });
      let x = cx - tw / 2;
      ctx.fillStyle = AXIS;
      ctx.textAlign = "left";
      parts.forEach((q) => { ctx.font = q.f; ctx.fillText(q.t, x, B + 66); x += ctx.measureText(q.t).width; });
      ctx.restore();
    },
  };
}

function buildConfig(p: any) {
  const tickFont = { family: SERIF, size: 25 };
  const gridOpts = p.grid
    ? { display: true, color: GRID, lineWidth: 1, drawTicks: false, drawOnChartArea: true }
    : { display: false, drawTicks: false };
  return {
    type: "line",
    data: { datasets: p.datasets },
    options: {
      responsive: false,
      animation: false,
      devicePixelRatio: 1,
      events: [],
      layout: {
        padding: {
          top: p.plotTop - p.bandTop,
          left: 0,
          right: 6,
          bottom: p.bandH - (p.plotBottom - p.bandTop) - 40,
        },
      },
      plugins: { legend: { display: false }, tooltip: { enabled: false }, title: { display: false } },
      scales: {
        x: {
          type: "linear",
          min: 0,
          max: 1,
          afterBuildTicks: (s: any) => { s.ticks = xTicks.map((v) => ({ value: v })); },
          afterFit: (s: any) => { s.height = 40; },
          ticks: {
            callback: (_v: any, i: number) => xTickLabels[i],
            font: tickFont,
            color: AXIS,
            padding: 8,
            maxRotation: 0,
            minRotation: 0,
            autoSkip: false,
          },
          grid: gridOpts,
          border: { display: false },
        },
        y: {
          type: "linear",
          min: p.yMin,
          max: p.yMax,
          afterBuildTicks: (s: any) => { s.ticks = p.yTicks.map((v: number) => ({ value: v })); },
          afterFit: (s: any) => { s.width = 78; },
          ticks: {
            callback: (_v: any, i: number) => p.yLabels[i],
            font: tickFont,
            color: AXIS,
            padding: 10,
            autoSkip: false,
          },
          grid: gridOpts,
          border: { display: false },
        },
      },
    },
    plugins: [decor(p)],
  };
}

export default function App() {
  const canvases = useRef<(HTMLCanvasElement | null)[]>([]);
  useEffect(() => {
    const charts = panels.map((p, i) => new Chart(canvases.current[i] as HTMLCanvasElement, buildConfig(p) as any));
    return () => charts.forEach((c) => c.destroy());
  }, []);
  return (
    <div style={{ position: "absolute", left: 0, top: 0, width: 787, height: 1771, background: "#fff" }}>
      {panels.map((p, i) => (
        <canvas
          key={i}
          ref={(el) => { canvases.current[i] = el; }}
          width={787}
          height={p.bandH}
          style={{ position: "absolute", left: 0, top: p.bandTop, width: 787, height: p.bandH, display: "block" }}
        />
      ))}
    </div>
  );
}
